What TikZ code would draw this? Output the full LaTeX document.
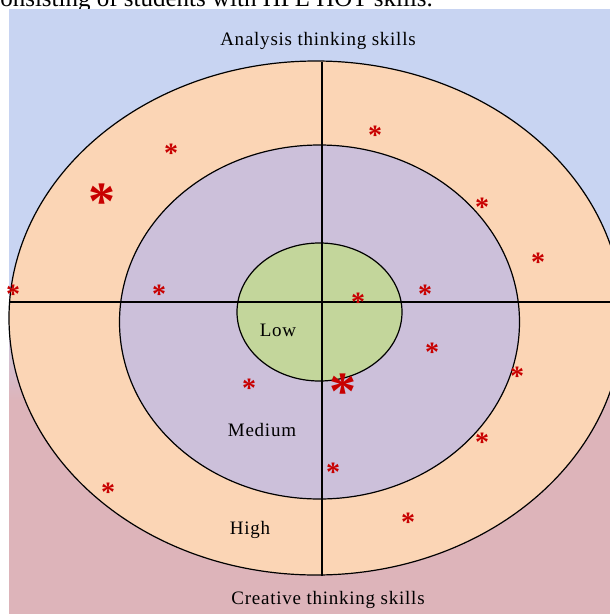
\documentclass[tikz,border=0pt]{standalone}
\usepackage{fontspec}
\setmainfont{Liberation Serif}
\newfontfamily\lblfont[LetterSpace=4]{Liberation Serif}
\usetikzlibrary{positioning}
\definecolor{ringhigh}{RGB}{251,213,181}
\definecolor{ringmed}{RGB}{204,192,218}
\definecolor{ringlow}{RGB}{195,214,155}
\definecolor{starred}{RGB}{200,0,0}
\definecolor{bgtop}{RGB}{200,212,242}
\definecolor{bgbot}{RGB}{221,180,186}

\begin{document}
\begin{tikzpicture}[x=1pt,y=-1pt,
  ring/.style={draw=black,line width=1.2pt},
  axis/.style={draw=black,line width=1.1pt},
  lbl/.style={font=\lblfont\fontsize{19}{22}\selectfont,inner sep=0pt},
  student/.style={text=starred,inner sep=0pt,anchor=base},
  smallstar/.style={student,font=\bfseries\fontsize{28}{28}\selectfont,yshift=-13pt},
  bigstar/.style={student,font=\bfseries\fontsize{54}{54}\selectfont,yshift=-25pt}]

  \useasboundingbox (0,0) rectangle (610,614);
  \clip (0,0) rectangle (610,614);

  %% caption line cut off by the page
  \node[font=\fontsize{25}{27}\selectfont,anchor=base west,inner sep=0pt] (caption) at (-11,6) {consisting of students with HPL HOT skills.};

  %% background panel
  \fill[bgtop] (9,9) rectangle (610,300);
  \shade[top color=bgtop,bottom color=bgbot] (9,299) rectangle (610,401);
  \fill[bgbot] (9,400) rectangle (610,614);

  %% rings
  \draw[ring,fill=ringhigh] (316,318) ellipse [x radius=307pt,y radius=257pt];
  \draw[ring,fill=ringmed] (319.5,322) ellipse [x radius=200pt,y radius=177pt];
  \draw[ring,fill=ringlow] (319.5,312) ellipse [x radius=82.5pt,y radius=69pt];

  %% axes
  \coordinate (north) at (322,62);
  \coordinate (south) at (322,576);
  \coordinate (west) at (9.6,302);
  \coordinate (east) at (612,302);
  \draw[axis] (north) -- (south);
  \draw[axis] (west) -- (east);

  %% labels
  \node[lbl] (analysis) at (318,41) {Analysis thinking skills};
  \node[lbl] (creative) at (328,600) {Creative thinking skills};
  \node[lbl] (low) at (278,330) {Low};
  \node[lbl] (medium) at (262,430) {Medium};
  \node[lbl] (high) at (250,530) {High};

  %% students
  \foreach \sx/\sy [count=\i] in {375/131, 171/149, 482/203, 538/258, 13/290, 159/290, 425/290, 358/298,
      432/348, 517/372, 249/384, 482/438, 333/468, 108/488, 408/518}
    \node[smallstar] (s\i) at (\sx,\sy) {*};
  \node[bigstar] (b1) at (102,194) {*};
  \node[bigstar] (b2) at (343,384) {*};
\end{tikzpicture}
\end{document}
